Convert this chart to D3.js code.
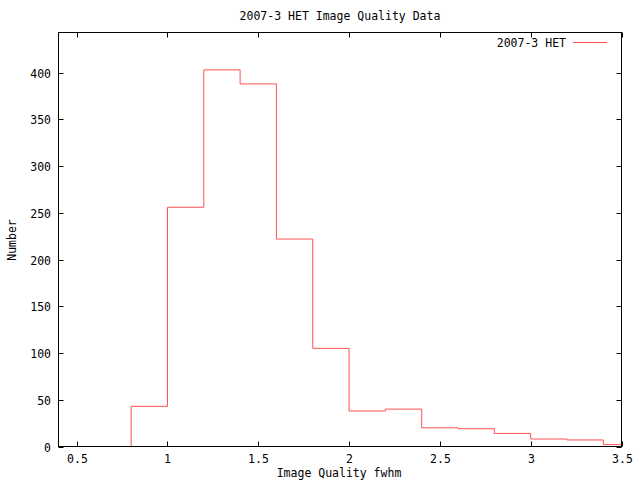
<!DOCTYPE html>
<html><head><meta charset="utf-8">
<script src="https://cdn.jsdelivr.net/npm/d3@7"></script>
<style>body{margin:0;background:#fff}svg{display:block}text{font-family:"DejaVu Sans Mono",monospace;font-size:11.5px;fill:#000}</style>
</head><body>
<script>
const binStarts = [0.8,1.0,1.2,1.4,1.6,1.8,2.0,2.2,2.4,2.6,2.8,3.0,3.2,3.4];
const counts    = [43,256,403,388,222,105,38,40,20,19,14,8,7,2];
const binEnd = 3.5;
const xTicks = [0.5,1,1.5,2,2.5,3,3.5];
const xTickLabels = ["0.5","1","1.5","2","2.5","3","3.5"];
const yTicks = [0,50,100,150,200,250,300,350,400];
const title = "2007-3 HET Image Quality Data";
const xLabel = "Image Quality fwhm";
const yLabel = "Number";
const seriesName = "2007-3 HET";

const W=640,H=480, L=58.5, R=621.5, T=32.5, B=446.5;
const svg=d3.select("body").append("svg").attr("width",W).attr("height",H);
const x=d3.scaleLinear().domain([0.4,3.5]).range([L,R]);
const y=d3.scaleLinear().domain([0,443]).range([B,T]);
const tl=5;
const g=svg.append("g");
// ticks
xTicks.forEach((v,i)=>{
  const px=Math.round(x(v))+0.5;
  g.append("line").attr("x1",px).attr("x2",px).attr("y1",B).attr("y2",B-tl).attr("stroke","#000");
  g.append("line").attr("x1",px).attr("x2",px).attr("y1",T).attr("y2",T+tl).attr("stroke","#000");
  g.append("text").attr("x",px).attr("y",463).attr("text-anchor","middle").text(xTickLabels[i]);
});
yTicks.forEach(v=>{
  const py=Math.round(y(v))+0.5;
  g.append("line").attr("x1",L).attr("x2",L+tl).attr("y1",py).attr("y2",py).attr("stroke","#000");
  g.append("line").attr("x1",R).attr("x2",R-tl).attr("y1",py).attr("y2",py).attr("stroke","#000");
  g.append("text").attr("x",51).attr("y",py+4).attr("text-anchor","end").text(v);
});
// data step
const pts=[[binStarts[0],0]];
binStarts.forEach((s,i)=>{pts.push([s,counts[i]]);});
pts.push([binEnd,counts[counts.length-1]]);
const line=d3.line().x(d=>x(d[0])).y(d=>y(d[1])).curve(d3.curveStepAfter);
svg.append("path").attr("d",line(pts)).attr("fill","none").attr("stroke","#ff5050").attr("stroke-width",1);
// border
svg.append("rect").attr("x",L).attr("y",T).attr("width",R-L).attr("height",B-T).attr("fill","none").attr("stroke","#000");
// labels
svg.append("text").attr("x",340).attr("y",20).attr("text-anchor","middle").text(title);
svg.append("text").attr("x",339).attr("y",477).attr("text-anchor","middle").text(xLabel);
svg.append("text").attr("transform","translate(16,240) rotate(-90)").attr("text-anchor","middle").text(yLabel);
// legend
svg.append("text").attr("x",566).attr("y",47).attr("text-anchor","end").text(seriesName);
svg.append("line").attr("x1",573).attr("x2",607).attr("y1",42.5).attr("y2",42.5).attr("stroke","#ff5050");
</script>
</body></html>
